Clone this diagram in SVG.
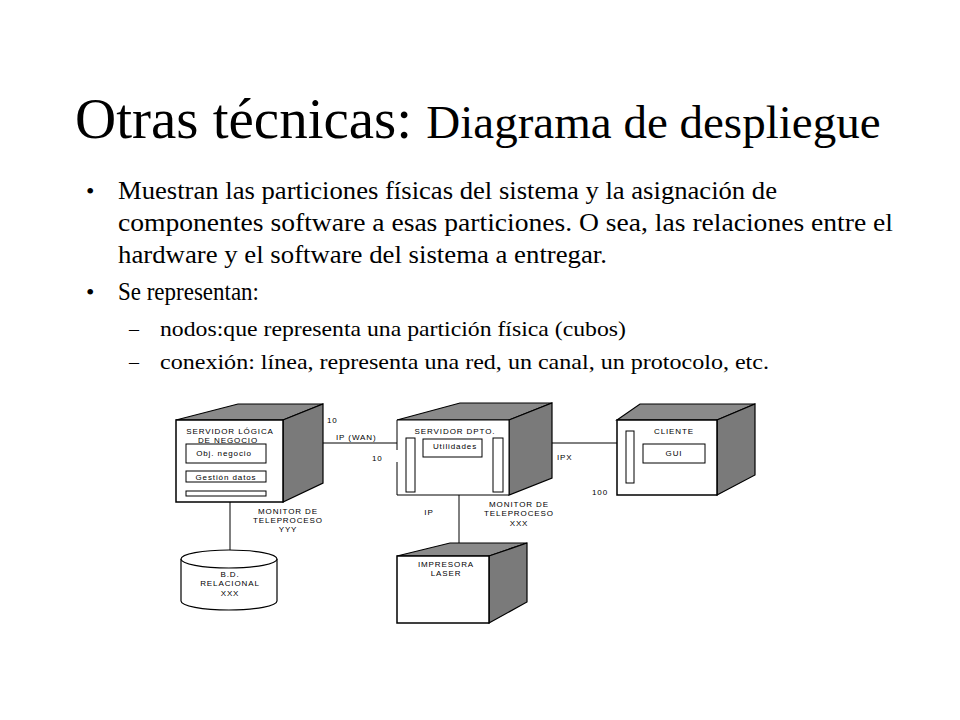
<svg xmlns="http://www.w3.org/2000/svg" width="960" height="720" viewBox="0 0 960 720">
<style>
.t{font-family:"Liberation Serif","Times New Roman",serif;fill:#000}
.lb{font-family:"Liberation Sans",Arial,sans-serif;font-size:8px;letter-spacing:0.9px;fill:#000}
.c{text-anchor:middle}
.front{fill:#fff;stroke:#000;stroke-width:1.5}
.top{fill:#8a8a8a;stroke:#000;stroke-width:1.2}
.side{fill:#7a7a7a;stroke:#000;stroke-width:1.2}
.box{fill:#fff;stroke:#000;stroke-width:1}
.ln{stroke:#000;stroke-width:1;fill:none}
</style>
<rect width="960" height="720" fill="#fff"/>
<g id="title">
<text class="t" x="75" y="138" font-size="57">Otras técnicas: <tspan font-size="47">Diagrama de despliegue</tspan></text>
</g>
<g id="bullets">
<text class="t" x="86" y="199" font-size="24">•</text>
<text class="t" x="118" y="199" font-size="25.5" textLength="659" lengthAdjust="spacingAndGlyphs">Muestran las particiones físicas del sistema y la asignación de</text>
<text class="t" x="118" y="231" font-size="25.5" textLength="775" lengthAdjust="spacingAndGlyphs">componentes software a esas particiones. O sea, las relaciones entre el</text>
<text class="t" x="118" y="263" font-size="25.5" textLength="489" lengthAdjust="spacingAndGlyphs">hardware y el software del sistema a entregar.</text>
<text class="t" x="86" y="300" font-size="24">•</text>
<text class="t" x="118" y="300" font-size="25.5" textLength="141" lengthAdjust="spacingAndGlyphs">Se representan:</text>
<text class="t" x="129" y="336" font-size="20">–</text>
<text class="t" x="160" y="336" font-size="21" textLength="466" lengthAdjust="spacingAndGlyphs">nodos:que representa una partición física (cubos)</text>
<text class="t" x="129" y="369" font-size="20">–</text>
<text class="t" x="160" y="369" font-size="21" textLength="609" lengthAdjust="spacingAndGlyphs">conexión: línea, representa una red, un canal, un protocolo, etc.</text>
</g>
<g id="connectors">
<line class="ln" x1="323" y1="443" x2="397" y2="443"/>
<line class="ln" x1="552" y1="443" x2="617" y2="443"/>
<line class="ln" x1="459" y1="495" x2="459" y2="543"/>
<line class="ln" x1="230" y1="496" x2="230" y2="550"/>
</g>
<g id="servidor-logica">
<polygon class="top" points="176,420 238,404 323,404 283,420"/>
<polygon class="side" points="283,420 323,404 323,483 283,502"/>
<rect class="front" x="176" y="420" width="107" height="82"/>
<text class="lb c" x="230" y="434">SERVIDOR LÓGICA</text>
<text class="lb c" x="228" y="443">DE NEGOCIO</text>
<rect class="box" x="186" y="444" width="80" height="19"/>
<text class="lb c" x="224" y="456">Obj.  negocio</text>
<rect class="box" x="186" y="471" width="80" height="11"/>
<text class="lb c" x="226" y="479.5">Gestión datos</text>
<rect class="box" x="186" y="491" width="80" height="5"/>
</g>
<g id="servidor-dpto">
<polygon class="top" points="397,420 460,403 552,403 509,420"/>
<polygon class="side" points="509,420 552,403 552,478 509,495"/>
<rect x="397" y="420" width="112" height="75" fill="#fff"/>
<path class="ln" stroke-width="1.5" d="M397,450 V420 H509 V495 H397 V462"/>
<text class="lb c" x="455" y="434">SERVIDOR  DPTO.</text>
<rect class="box" x="406" y="438" width="9" height="54"/>
<rect class="box" x="493" y="438" width="10" height="54"/>
<rect class="box" x="423" y="439" width="59" height="18"/>
<text class="lb c" x="455" y="449">Utilidades</text>
</g>
<g id="cliente">
<polygon class="top" points="617,420 640,404 755,404 717,420"/>
<polygon class="side" points="717,420 755,404 755,475 717,495"/>
<rect class="front" x="617" y="420" width="100" height="75"/>
<rect class="box" x="626" y="431" width="8" height="52"/>
<text class="lb c" x="674" y="434">CLIENTE</text>
<rect class="box" x="643" y="444" width="62" height="19"/>
<text class="lb c" x="674" y="456">GUI</text>
</g>
<g id="impresora">
<polygon class="top" points="397,556 450,543 527,543 489,556"/>
<polygon class="side" points="489,556 527,543 527,602 489,623"/>
<rect class="front" x="397" y="556" width="92" height="67"/>
<text class="lb c" x="446" y="567">IMPRESORA</text>
<text class="lb c" x="446" y="576">LASER</text>
</g>
<g id="bd-relacional">
<path fill="#fff" stroke="#000" stroke-width="1.2" d="M181,559 V601 A48,9 0 0,0 277,601 V559"/>
<ellipse cx="229" cy="559" rx="48" ry="9" fill="#fff" stroke="#000" stroke-width="1.2"/>
<text class="lb c" x="230" y="577">B.D.</text>
<text class="lb c" x="230" y="586">RELACIONAL</text>
<text class="lb c" x="230" y="596">XXX</text>
</g>
<g id="connector-labels">
<text class="lb" x="327" y="423">10</text>
<text class="lb" x="336" y="440">IP (WAN)</text>
<text class="lb" x="372" y="461">10</text>
<text class="lb c" x="429" y="515">IP</text>
<text class="lb" x="557" y="460">IPX</text>
<text class="lb" x="592" y="495">100</text>
<text class="lb c" x="288" y="514">MONITOR DE</text>
<text class="lb c" x="288" y="523">TELEPROCESO</text>
<text class="lb c" x="288" y="532">YYY</text>
<text class="lb c" x="519" y="507">MONITOR DE</text>
<text class="lb c" x="519" y="516">TELEPROCESO</text>
<text class="lb c" x="519" y="526">XXX</text>
</g>
</svg>
